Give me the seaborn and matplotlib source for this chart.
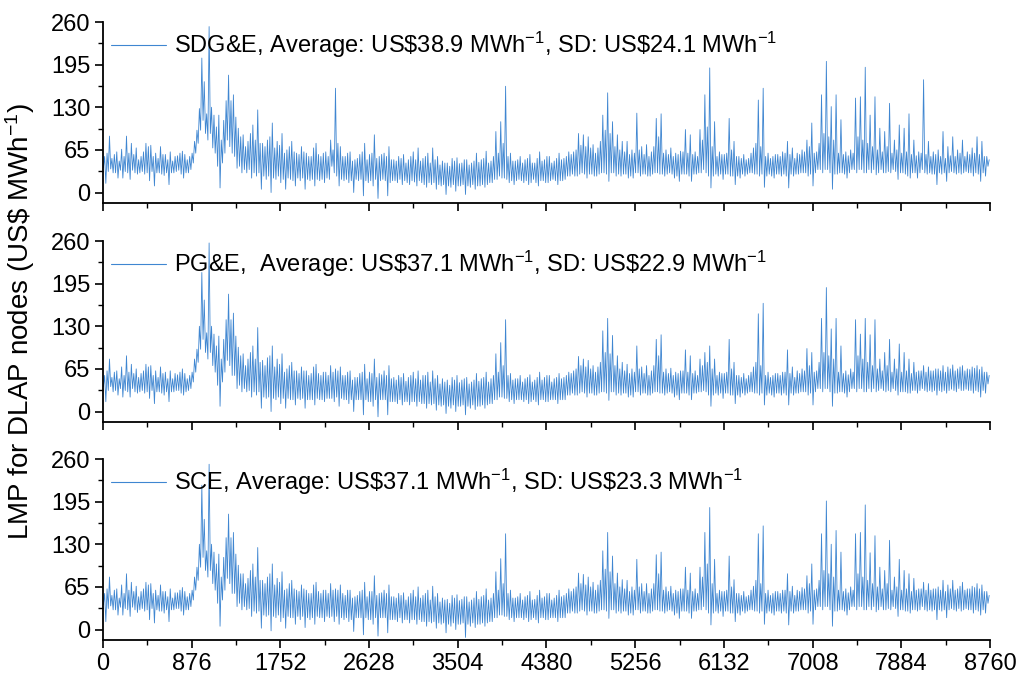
import numpy as np
import pandas as pd
import matplotlib
matplotlib.use("Agg")
import matplotlib.pyplot as plt
from matplotlib.ticker import MultipleLocator
import seaborn as sns

# ---------------- data: daily high / low LMP readings (US$/MWh), 365 days ----------------
sdge_hi = [
    55, 60, 86, 52, 58, 62, 48, 66, 55, 86, 60, 75, 58, 68, 50, 55, 62, 75, 70, 72,
    55, 60, 52, 70, 58, 58, 50, 62, 48, 55, 56, 60, 63, 58, 50, 55, 60, 78, 95, 128,
    205, 169, 120, 253, 130, 118, 100, 118, 80, 110, 140, 179, 140, 149, 115, 98, 85, 88, 70, 78,
    90, 103, 80, 126, 75, 75, 70, 80, 85, 106, 68, 78, 72, 90, 60, 65, 70, 78, 62, 60,
    58, 70, 62, 60, 55, 55, 68, 75, 58, 55, 60, 62, 55, 80, 65, 159, 75, 70, 55, 55,
    60, 62, 48, 50, 52, 58, 62, 75, 50, 58, 60, 88, 52, 55, 58, 60, 55, 70, 50, 50,
    48, 55, 52, 58, 45, 50, 55, 62, 50, 68, 48, 52, 55, 60, 45, 68, 50, 55, 42, 48,
    45, 45, 40, 52, 48, 53, 44, 45, 50, 50, 42, 45, 48, 60, 46, 50, 52, 63, 45, 48,
    55, 93, 60, 108, 75, 162, 55, 60, 48, 48, 50, 55, 45, 50, 52, 58, 45, 45, 52, 62,
    48, 50, 55, 55, 45, 48, 52, 60, 50, 52, 55, 62, 58, 62, 65, 90, 72, 88, 70, 85,
    68, 73, 60, 68, 78, 118, 95, 152, 90, 108, 70, 88, 65, 78, 62, 78, 58, 65, 60, 121,
    65, 70, 58, 73, 55, 62, 70, 113, 85, 120, 60, 65, 58, 68, 55, 60, 58, 63, 62, 96,
    60, 88, 58, 62, 55, 96, 80, 149, 100, 190, 70, 108, 55, 62, 58, 58, 60, 113, 65, 78,
    55, 55, 52, 58, 50, 52, 60, 68, 75, 141, 70, 159, 55, 60, 52, 55, 58, 58, 55, 62,
    60, 78, 58, 68, 52, 60, 58, 65, 62, 80, 70, 106, 60, 62, 75, 149, 90, 200, 85, 131,
    80, 149, 60, 111, 58, 62, 56, 65, 60, 144, 85, 146, 80, 191, 75, 118, 70, 146, 65, 98,
    62, 93, 70, 136, 60, 80, 65, 103, 60, 98, 62, 120, 58, 80, 56, 62, 60, 172, 58, 78,
    55, 62, 58, 65, 55, 93, 52, 70, 56, 85, 55, 65, 60, 80, 55, 62, 58, 68, 60, 85,
    58, 78, 55, 55, 50,
]
sdge_lo = [
    38, 14, 32, 36, 30, 30, 22, 34, 22, 32, 30, 20, 34, 30, 28, 30, 32, 28, 30, 18,
    32, 10, 30, 30, 28, 26, 30, 12, 30, 30, 32, 34, 28, 22, 30, 30, 35, 45, 60, 75,
    95, 110, 90, 80, 90, 68, 60, 40, 7, 45, 60, 80, 70, 60, 55, 37, 40, 30, 35, 30,
    35, 22, 30, 25, 30, 5, 25, 20, 25, 0, 22, 20, 25, 15, 20, 5, 22, 20, 18, 10,
    22, 18, 22, 5, 20, 18, 20, 10, 20, 18, 20, 15, 22, 20, 40, 30, 25, 10, 20, 18,
    20, 15, 18, 0, 20, 18, 20, -5, 18, 15, 18, 10, 20, -9, 18, 20, 18, -5, 15, 18,
    18, 15, 20, 12, 18, 15, 12, 18, 16, 10, 18, 15, 12, 8, 15, 12, 15, 5, 12, 10,
    12, -3, 10, 8, 12, 2, 10, 10, 12, -3, 10, 8, 12, 5, 10, 10, 12, 8, 12, 15,
    15, 20, 20, 25, 22, 22, 20, 15, 18, 12, 18, 20, 18, 15, 18, 12, 15, 20, 15, 10,
    18, 18, 15, 15, 18, 20, 18, 12, 18, 18, 20, 25, 25, 28, 25, 25, 28, 30, 28, 22,
    28, 28, 25, 25, 28, 30, 30, 28, 17, 30, 30, 25, 28, 25, 28, 28, 22, 25, 22, 30,
    30, 25, 28, 28, 25, 25, 28, 30, 30, 28, 28, 25, 28, 30, 28, 22, 25, 17, 28, 28,
    28, 25, 17, 28, 28, 30, 30, 35, 30, 25, 7, 25, 28, 25, 28, 20, 28, 28, 25, 25,
    12, 25, 22, 28, 25, 28, 30, 30, 28, 28, 25, 28, 8, 25, 28, 25, 22, 28, 28, 25,
    28, 25, 7, 28, 25, 28, 28, 30, 30, 30, 25, 28, 10, 30, 35, 35, 30, 35, 35, 30,
    5, 28, 28, 30, 30, 28, 22, 30, 35, 35, 30, 35, 35, 30, 30, 35, 30, 35, 27, 30,
    35, 30, 30, 32, 30, 35, 32, 20, 30, 30, 28, 25, 22, 30, 30, 22, 30, 35, 30, 28,
    30, 28, 28, 12, 30, 28, 30, 17, 30, 32, 30, 28, 30, 28, 30, 32, 30, 30, 25, 30,
    28, 17, 30, 25, 40,
]

pge_hi = [
    55, 62, 80, 52, 60, 62, 50, 68, 55, 85, 60, 72, 58, 65, 52, 58, 62, 72, 68, 70,
    55, 62, 52, 68, 58, 60, 50, 62, 50, 58, 56, 60, 65, 58, 50, 55, 60, 80, 95, 130,
    212, 170, 120, 257, 130, 118, 100, 115, 80, 110, 140, 179, 140, 150, 115, 98, 85, 88, 70, 80,
    90, 100, 80, 128, 75, 78, 70, 82, 85, 100, 68, 80, 72, 88, 60, 65, 70, 75, 62, 62,
    58, 68, 62, 62, 55, 58, 68, 72, 58, 55, 60, 60, 55, 70, 60, 65, 62, 68, 55, 55,
    60, 62, 48, 52, 52, 58, 60, 72, 50, 60, 58, 80, 52, 58, 56, 62, 55, 70, 50, 52,
    48, 55, 52, 58, 46, 52, 55, 60, 50, 62, 48, 55, 55, 60, 45, 62, 50, 55, 42, 50,
    45, 48, 40, 52, 48, 55, 44, 48, 50, 52, 42, 45, 48, 58, 46, 50, 52, 60, 45, 50,
    55, 88, 60, 105, 70, 140, 55, 58, 48, 50, 50, 55, 45, 50, 52, 56, 45, 48, 52, 60,
    48, 52, 55, 55, 45, 50, 52, 58, 50, 52, 55, 60, 58, 62, 65, 84, 70, 80, 68, 78,
    65, 70, 60, 68, 75, 123, 90, 142, 88, 116, 70, 85, 65, 75, 62, 72, 58, 65, 60, 100,
    65, 68, 58, 70, 55, 62, 70, 110, 85, 117, 60, 65, 58, 66, 55, 60, 58, 62, 62, 94,
    60, 85, 58, 62, 55, 80, 70, 90, 75, 100, 65, 80, 55, 60, 58, 58, 60, 110, 65, 75,
    55, 55, 52, 58, 50, 55, 60, 68, 75, 149, 70, 165, 55, 60, 52, 55, 58, 58, 55, 60,
    60, 94, 58, 68, 52, 62, 58, 65, 62, 96, 70, 90, 60, 62, 75, 142, 90, 189, 85, 126,
    80, 142, 60, 100, 58, 62, 56, 65, 60, 140, 85, 118, 80, 142, 75, 117, 70, 140, 65, 80,
    62, 90, 70, 110, 60, 80, 65, 103, 60, 90, 62, 80, 58, 75, 60, 62, 62, 70, 60, 68,
    62, 62, 65, 65, 62, 70, 60, 68, 65, 71, 62, 65, 68, 70, 62, 65, 64, 68, 66, 70,
    64, 68, 60, 60, 55,
]
pge_lo = [
    38, 15, 32, 38, 30, 32, 25, 35, 22, 32, 30, 22, 35, 30, 28, 30, 32, 28, 30, 20,
    32, 12, 30, 30, 28, 25, 30, 15, 30, 30, 32, 32, 28, 25, 30, 32, 35, 45, 60, 75,
    95, 110, 90, 80, 90, 70, 60, 40, 8, 45, 60, 78, 70, 55, 55, 35, 40, 30, 35, 30,
    32, 22, 30, 25, 30, 5, 22, 20, 22, 0, 20, 18, 22, 12, 20, 5, 20, 18, 18, 10,
    20, 18, 20, 5, 18, 18, 18, 10, 20, 18, 18, 15, 20, 20, 20, 15, 22, 8, 20, 18,
    18, 12, 18, 0, 18, 18, 18, -5, 18, 15, 15, 8, 18, -8, 18, 18, 18, -5, 15, 15,
    15, 12, 18, 10, 15, 15, 10, 15, 15, 8, 15, 12, 12, 5, 12, 10, 12, 2, 10, 8,
    10, -3, 8, 5, 10, 0, 8, 8, 10, -5, 8, 5, 10, 3, 8, 8, 10, 5, 10, 12,
    12, 18, 18, 22, 22, 20, 20, 15, 18, 12, 18, 18, 18, 15, 18, 12, 15, 18, 15, 10,
    18, 18, 15, 15, 18, 18, 18, 12, 18, 18, 18, 25, 25, 28, 25, 25, 28, 30, 28, 22,
    28, 28, 25, 25, 28, 30, 30, 28, 17, 30, 30, 25, 28, 25, 28, 28, 22, 25, 22, 30,
    30, 25, 28, 28, 25, 25, 28, 30, 30, 28, 28, 25, 28, 30, 28, 22, 25, 18, 28, 28,
    28, 25, 18, 28, 28, 30, 30, 32, 30, 25, 8, 25, 28, 25, 28, 20, 28, 28, 25, 25,
    12, 25, 22, 28, 25, 28, 30, 30, 28, 28, 25, 28, 10, 25, 28, 25, 22, 28, 28, 25,
    28, 25, 10, 28, 25, 28, 28, 30, 30, 30, 25, 28, 10, 30, 35, 35, 30, 35, 35, 30,
    8, 28, 28, 30, 30, 28, 22, 30, 35, 35, 30, 35, 35, 30, 30, 35, 30, 35, 30, 32,
    35, 32, 30, 32, 30, 35, 32, 25, 30, 30, 30, 28, 28, 32, 32, 28, 32, 35, 32, 30,
    32, 30, 32, 25, 32, 30, 32, 28, 32, 34, 32, 30, 35, 32, 32, 34, 32, 32, 28, 32,
    30, 22, 32, 28, 42,
]

sce_hi = [
    55, 62, 80, 52, 60, 62, 48, 68, 55, 85, 60, 72, 58, 66, 50, 58, 62, 72, 68, 70,
    55, 60, 52, 68, 58, 58, 50, 62, 48, 56, 56, 60, 64, 58, 50, 55, 60, 80, 95, 130,
    220, 168, 120, 252, 130, 118, 100, 115, 80, 110, 140, 176, 140, 148, 115, 98, 85, 85, 70, 78,
    90, 100, 80, 125, 75, 75, 70, 80, 85, 100, 68, 78, 72, 88, 60, 62, 70, 75, 62, 60,
    58, 68, 62, 60, 55, 55, 68, 72, 58, 55, 60, 60, 55, 70, 60, 62, 60, 68, 55, 52,
    60, 60, 48, 50, 52, 58, 60, 72, 50, 58, 58, 82, 52, 55, 56, 60, 55, 68, 50, 50,
    48, 55, 52, 56, 45, 50, 55, 60, 50, 65, 48, 52, 55, 60, 45, 66, 50, 55, 42, 48,
    45, 46, 40, 52, 48, 53, 44, 46, 50, 50, 42, 45, 48, 58, 46, 50, 52, 62, 45, 48,
    55, 88, 60, 108, 70, 146, 55, 60, 48, 48, 50, 55, 45, 50, 52, 58, 45, 46, 52, 60,
    48, 50, 55, 55, 45, 48, 52, 60, 50, 52, 55, 62, 58, 62, 65, 86, 70, 84, 68, 80,
    65, 72, 60, 68, 75, 120, 92, 148, 88, 112, 70, 86, 65, 76, 62, 75, 58, 65, 60, 107,
    65, 70, 58, 70, 55, 62, 70, 114, 85, 118, 60, 65, 58, 66, 55, 60, 58, 62, 62, 95,
    60, 86, 58, 62, 55, 95, 80, 148, 100, 186, 70, 107, 55, 60, 58, 58, 60, 112, 65, 76,
    55, 55, 52, 58, 50, 52, 60, 66, 75, 146, 70, 158, 55, 60, 52, 55, 58, 58, 55, 60,
    60, 85, 58, 66, 52, 60, 58, 64, 62, 82, 70, 100, 60, 62, 75, 146, 90, 196, 85, 130,
    80, 151, 60, 118, 58, 62, 56, 65, 60, 146, 85, 148, 80, 190, 75, 117, 70, 143, 65, 95,
    62, 90, 70, 136, 60, 80, 65, 107, 60, 90, 62, 85, 58, 78, 60, 62, 62, 72, 60, 70,
    60, 62, 62, 65, 60, 75, 58, 68, 62, 75, 60, 62, 66, 72, 60, 62, 62, 66, 64, 70,
    62, 68, 58, 58, 52,
]
sce_lo = [
    38, 12, 32, 36, 30, 30, 22, 34, 22, 32, 30, 20, 34, 30, 26, 30, 32, 28, 30, 15,
    32, 10, 30, 28, 28, 25, 30, 12, 30, 30, 32, 32, 28, 22, 30, 30, 35, 45, 60, 75,
    95, 110, 90, 80, 90, 70, 60, 40, 5, 45, 60, 78, 70, 55, 55, 35, 40, 30, 35, 30,
    32, 20, 28, 25, 28, 2, 22, 20, 22, -2, 20, 18, 22, 12, 18, 2, 20, 18, 18, 8,
    20, 15, 20, 3, 18, 15, 18, 8, 20, 18, 18, 12, 20, 18, 20, 12, 20, 8, 18, 15,
    18, 12, 15, -3, 18, 18, 18, -8, 18, 15, 15, 8, 18, -10, 18, 18, 18, -5, 15, 15,
    15, 12, 18, 10, 15, 15, 10, 15, 15, 8, 15, 12, 12, 5, 12, 10, 12, 2, 10, 8,
    10, -5, 8, 5, 10, 0, 8, 8, 10, -12, 8, 5, 10, 3, 8, 8, 10, 5, 10, 12,
    12, 18, 18, 22, 22, 20, 20, 15, 18, 12, 18, 18, 18, 15, 18, 12, 15, 18, 15, 10,
    18, 18, 15, 15, 18, 18, 18, 12, 18, 18, 18, 25, 25, 28, 25, 25, 28, 30, 28, 22,
    28, 28, 25, 25, 28, 30, 30, 28, 17, 30, 30, 25, 28, 25, 28, 28, 22, 25, 22, 30,
    30, 25, 28, 28, 25, 25, 28, 30, 30, 28, 28, 25, 28, 30, 28, 22, 25, 17, 28, 28,
    28, 25, 17, 28, 28, 30, 30, 35, 30, 25, 7, 25, 28, 25, 28, 20, 28, 28, 25, 25,
    12, 25, 22, 28, 25, 28, 30, 30, 28, 28, 25, 28, 8, 25, 28, 25, 22, 28, 28, 25,
    28, 25, 7, 28, 25, 28, 28, 30, 30, 30, 25, 28, 8, 30, 35, 35, 30, 35, 35, 30,
    5, 28, 28, 30, 30, 28, 22, 30, 35, 35, 30, 35, 35, 30, 30, 35, 30, 35, 27, 30,
    35, 30, 30, 32, 30, 35, 32, 20, 30, 30, 28, 28, 25, 30, 30, 28, 30, 35, 30, 28,
    30, 28, 30, 15, 30, 28, 30, 18, 30, 32, 30, 28, 32, 28, 30, 32, 30, 30, 25, 30,
    28, 22, 30, 25, 40,
]

labels = [
    r"SDG&E, Average: US\$38.9 MWh$^{-1}$, SD: US\$24.1 MWh$^{-1}$",
    r"PG&E,  Average: US\$37.1 MWh$^{-1}$, SD: US\$22.9 MWh$^{-1}$",
    r"SCE, Average: US\$37.1 MWh$^{-1}$, SD: US\$23.3 MWh$^{-1}$",
]
y_ticks = [0, 65, 130, 195, 260]
x_ticks = [0, 876, 1752, 2628, 3504, 4380, 5256, 6132, 7008, 7884, 8760]
y_label = r"LMP for DLAP nodes (US\$ MWh$^{-1}$)"

# ---------------- style ----------------
sns.set_theme(style="ticks")
plt.rcParams["font.family"] = ["Liberation Sans", "DejaVu Sans"]
plt.rcParams["mathtext.fontset"] = "custom"
plt.rcParams["mathtext.rm"] = "Liberation Sans"
plt.rcParams["mathtext.it"] = "Liberation Sans:italic"
plt.rcParams["mathtext.bf"] = "Liberation Sans:bold"
plt.rcParams["mathtext.default"] = "regular"

blue = "#3f86d1"

fig = plt.figure(figsize=(10.2, 6.79), dpi=100)
W, H = 1020.0, 679.0
left = 103 / W
width = 887 / W
panels = [(203, 181), (422, 181), (640, 181)]  # (bottom px, height px)


def long_frame(lo, hi):
    n = len(hi)
    day = np.arange(n)
    df = pd.DataFrame({
        "hour": np.concatenate([day * 24 + 4, day * 24 + 16]),
        "price": np.concatenate([lo, hi]),
    })
    return df.sort_values("hour").reset_index(drop=True)


series = [(sdge_lo, sdge_hi), (pge_lo, pge_hi), (sce_lo, sce_hi)]
for i, ((bpx, hpx), (lo, hi), lab) in enumerate(zip(panels, series, labels)):
    ax = fig.add_axes([left, 1 - bpx / H, width, hpx / H])
    df = long_frame(lo, hi)
    sns.lineplot(data=df, x="hour", y="price", ax=ax, color=blue, linewidth=0.6,
                 label=lab, estimator=None, sort=False)
    ax.set_xlim(0, 8760)
    ax.set_ylim(-16, 260)
    ax.set_yticks(y_ticks)
    ax.yaxis.set_minor_locator(MultipleLocator(32.5))
    ax.set_xticks(x_ticks)
    ax.xaxis.set_minor_locator(MultipleLocator(438))
    ax.set_xlabel("")
    ax.set_ylabel("")
    for s in ("top", "right"):
        ax.spines[s].set_visible(False)
    for s in ("left", "bottom"):
        ax.spines[s].set_linewidth(1.3)
        ax.spines[s].set_color("black")
    ax.tick_params(axis="both", which="major", direction="out", length=6, width=1.2,
                   colors="black", pad=3)
    ax.tick_params(axis="y", which="major", labelsize=17)
    ax.tick_params(axis="x", which="major", labelsize=17)
    ax.tick_params(axis="both", which="minor", direction="out", length=3.5, width=1.0,
                   colors="black")
    ax.set_facecolor("white")
    if i < 2:
        ax.tick_params(axis="x", labelbottom=False)
    leg = ax.legend(loc="upper left", bbox_to_anchor=(0, 1), frameon=False,
                    fontsize=17, handlelength=2.3, handletextpad=0.35,
                    borderaxespad=0.0, borderpad=0.35)
    for line in leg.get_lines():
        line.set_linewidth(0.8)
    for t in leg.get_texts():
        t.set_color("black")

fig.text(20 / W, 1 - 322 / H, y_label, rotation=90, ha="center", va="center",
         fontsize=20, color="black")

fig.savefig("out.png", dpi=100, facecolor="white")
